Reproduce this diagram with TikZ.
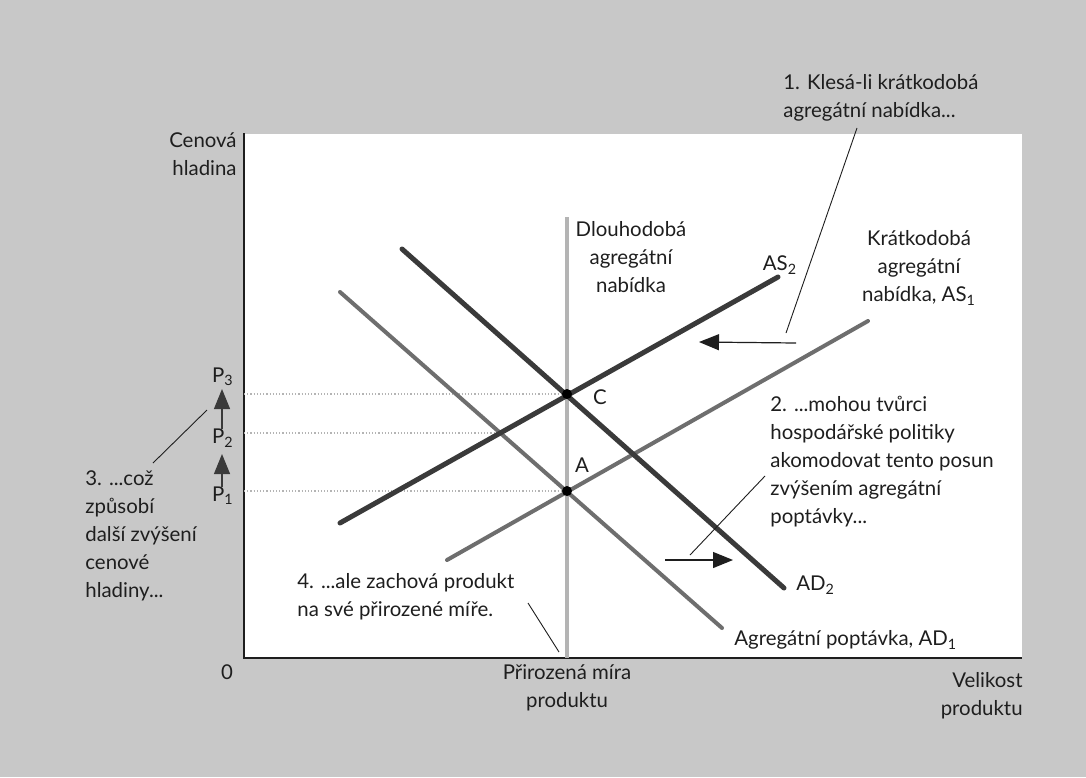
\documentclass[tikz,border=0pt]{standalone}
\usepackage{fontspec}
\setmainfont{Lato}
\usetikzlibrary{positioning,arrows.meta,intersections}
\definecolor{pagegray}{RGB}{200,200,200}
\definecolor{curvedark}{RGB}{58,58,58}
\definecolor{curvemid}{RGB}{110,110,110}
\definecolor{lrasgray}{RGB}{180,180,180}
\definecolor{inkgray}{RGB}{30,30,30}

\begin{document}
\begin{tikzpicture}[x=0.5pt, y=-0.5pt,
    every node/.style={font=\fontsize{10.2}{14}\selectfont, text=inkgray, inner sep=0pt},
    darkcurve/.style={curvedark, line width=2.5pt, line cap=round},
    midcurve/.style={curvemid, line width=2pt, line cap=round},
    guide/.style={lrasgray, line width=0.6pt, densely dotted},
    leader/.style={inkgray, line width=0.45pt},
    shiftarrow/.style={inkgray, line width=0.6pt, -{Triangle[length=10pt,width=8pt]}},
    pricearrow/.style={curvedark, line width=0.6pt, -{Triangle[length=10pt,width=8pt]}},
    eqdot/.style={circle, fill=black, minimum size=5pt}]
        % Page and plot area
        \fill[pagegray] (0,0) rectangle (1086,777);
        \useasboundingbox (0,0) rectangle (1086,777);
        \fill[white] (244,134) rectangle (1022,658);
        \coordinate (origin) at (244,658);
        \coordinate (ytop) at (244,133);
        \coordinate (xend) at (1022,658);
        \draw[inkgray, line width=0.8pt] (ytop) -- (origin) -- (xend);

        % Long-run supply
        \coordinate (lrastop) at (567,217);
        \coordinate (lrasbot) at (567,658);
        \draw[lrasgray, line width=2pt] (lrastop) -- (lrasbot);

        % Curve end points
        \coordinate (ad1a) at (340,292);  \coordinate (ad1b) at (722,628);
        \coordinate (ad2a) at (402,249);  \coordinate (ad2b) at (784,588);
        \coordinate (as1a) at (447,560);  \coordinate (as1b) at (868,321);
        \coordinate (as2a) at (340,523);  \coordinate (as2b) at (778,277);
        \path[name path=ad1] (ad1a) -- (ad1b);
        \path[name path=as2] (as2a) -- (as2b);
        \path[name intersections={of=as2 and ad1, by=B}];

        % Price levels
        \coordinate (C) at (567,394);
        \coordinate (A) at (567,491);
        \draw[guide] (C -| origin) -- (C);
        \draw[guide] (B -| origin) -- (B);
        \draw[guide] (A -| origin) -- (A);

        % Curves
        \draw[midcurve] (ad1a) -- (ad1b);
        \draw[midcurve] (as1a) -- (as1b);
        \draw[darkcurve] (as2a) -- (as2b);
        \draw[darkcurve] (ad2a) -- (ad2b);
        \node[eqdot] (eqC) at (C) {};
        \node[eqdot] (eqA) at (A) {};

        % Curve labels
        \node (clabel) at (600,397) {C};
        \node (alabel) at (582,465) {A};
        \node (as2label) at (780,265) {AS\textsubscript{2}};
        \node[align=center] (as1label) at (919,268) {Krátkodobá\\agregátní\\nabídka, AS\textsubscript{1}};
        \node[align=center] (lraslabel) at (631,257) {Dlouhodobá\\agregátní\\nabídka};
        \node[anchor=west] (ad2label) at (796,585) {AD\textsubscript{2}};
        \node[anchor=west] (ad1label) at (734,640) {Agregátní poptávka, AD\textsubscript{1}};

        % Axes labels
        \node[anchor=east, align=right] (ylabel) at (237,154) {Cenová\\hladina};
        \node (zero) at (227,672) {0};
        \node[align=center] (natural) at (567,688) {Přirozená míra\\produktu};
        \node[anchor=east, align=right] (xlabel) at (1023,696) {Velikost\\produktu};

        % P1 -> P2 -> P3
        \node (p3) at (223,377) {P\textsubscript{3}};
        \node (p2) at (223,438) {P\textsubscript{2}};
        \node (p1) at (223,496) {P\textsubscript{1}};
        \coordinate (p1tip) at (222,454);
        \coordinate (p2tip) at (222,389);
        \draw[pricearrow] (p1.north -| p1tip) -- (p1tip);
        \draw[pricearrow] (p2.north -| p2tip) -- (p2tip);

        % Shifts of the curves
        \coordinate (asfrom) at (796,343);  \coordinate (asto) at (699,342);
        \coordinate (adfrom) at (665,560);  \coordinate (adto) at (733,560);
        \draw[shiftarrow] (asfrom) -- (asto);
        \draw[shiftarrow] (adfrom) -- (adto);

        % Notes
        \node[anchor=west, align=left] (note1) at (783,98) {1. Klesá-li krátkodobá\\agregátní nabídka...};
        \node[anchor=west, align=left] (note2) at (770,462) {2. ...mohou tvůrci\\hospodářské politiky\\akomodovat tento posun\\zvýšením agregátní\\poptávky...};
        \node[anchor=west, align=left] (note3) at (85,536) {3. ...což\\způsobí\\další zvýšení\\cenové\\hladiny...};
        \node[anchor=west, align=left] (note4) at (297,597) {4. ...ale zachová produkt\\na své přirozené míře.};
        \coordinate (lead1a) at (857,128);  \coordinate (lead1b) at (786,333);
        \coordinate (lead2a) at (765,476);  \coordinate (lead2b) at (690,555);
        \coordinate (lead3a) at (153,463);  \coordinate (lead3b) at (207,410);
        \coordinate (lead4a) at (528,603);  \coordinate (lead4b) at (559,652);
        \draw[leader] (lead1a) -- (lead1b);
        \draw[leader] (lead2a) -- (lead2b);
        \draw[leader] (lead3a) -- (lead3b);
        \draw[leader] (lead4a) -- (lead4b);
    \end{tikzpicture}
\end{document}
